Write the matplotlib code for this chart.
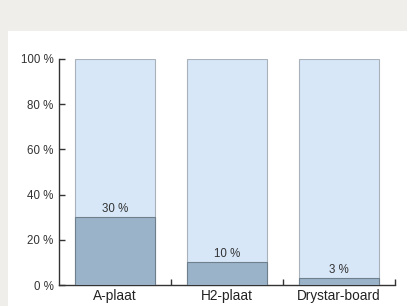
import matplotlib
matplotlib.use("Agg")
import matplotlib.pyplot as plt
from matplotlib.patches import Rectangle

categories = ["A-plaat", "H2-plaat", "Drystar-board"]
values = [30, 10, 3]
totals = [100, 100, 100]
yticks = [0, 20, 40, 60, 80, 100]

plt.rcParams["font.family"] = ["Liberation Sans", "DejaVu Sans"]

fig = plt.figure(figsize=(4.07, 3.06), dpi=100)
fig.patch.set_facecolor("#efeeea")
fig.patches.append(Rectangle((8/407, 0), 1, (306-31)/306, transform=fig.transFigure,
                             facecolor="white", edgecolor="none", zorder=-10))

ax = fig.add_axes([59/407, 21/306, (395-59)/407, (285-59)/306])
ax.set_zorder(5)
ax.set_facecolor("none")
x = [i + 0.5 for i in range(len(categories))]
w = 0.72
light = "#d7e7f8"
dark = "#9ab3c9"
ax.bar(x, totals, width=w, color=light, edgecolor="#a9b2ba", linewidth=0.8, zorder=2)
ax.bar(x, values, width=w, color=dark, edgecolor="#6f7f8c", linewidth=0.8, zorder=3)
for xi, v in zip(x, values):
    ax.text(xi, v + 0.9, f"{v} %", ha="center", va="bottom", fontsize=8.3, color="#333333")

ax.set_xlim(0, 3)
ax.set_ylim(0, 100)
ax.set_yticks(yticks)
ax.set_yticklabels([f"{t} %" for t in yticks], fontsize=8.3, color="#333333")
ax.set_xticks(x)
ax.set_xticklabels(categories, fontsize=9.8, color="#222222")
ax.tick_params(axis="x", which="major", length=0, pad=3)
ax.set_xticks([1, 2, 3], minor=True)
ax.tick_params(axis="x", which="minor", direction="in", length=4, width=1, color="#333333")
ax.tick_params(axis="y", direction="in", length=4, width=1, color="#333333", pad=4)
for s in ["top", "right"]:
    ax.spines[s].set_visible(False)
for s in ["left", "bottom"]:
    ax.spines[s].set_color("#333333")
    ax.spines[s].set_linewidth(1)

fig.savefig("out.png", dpi=100)
